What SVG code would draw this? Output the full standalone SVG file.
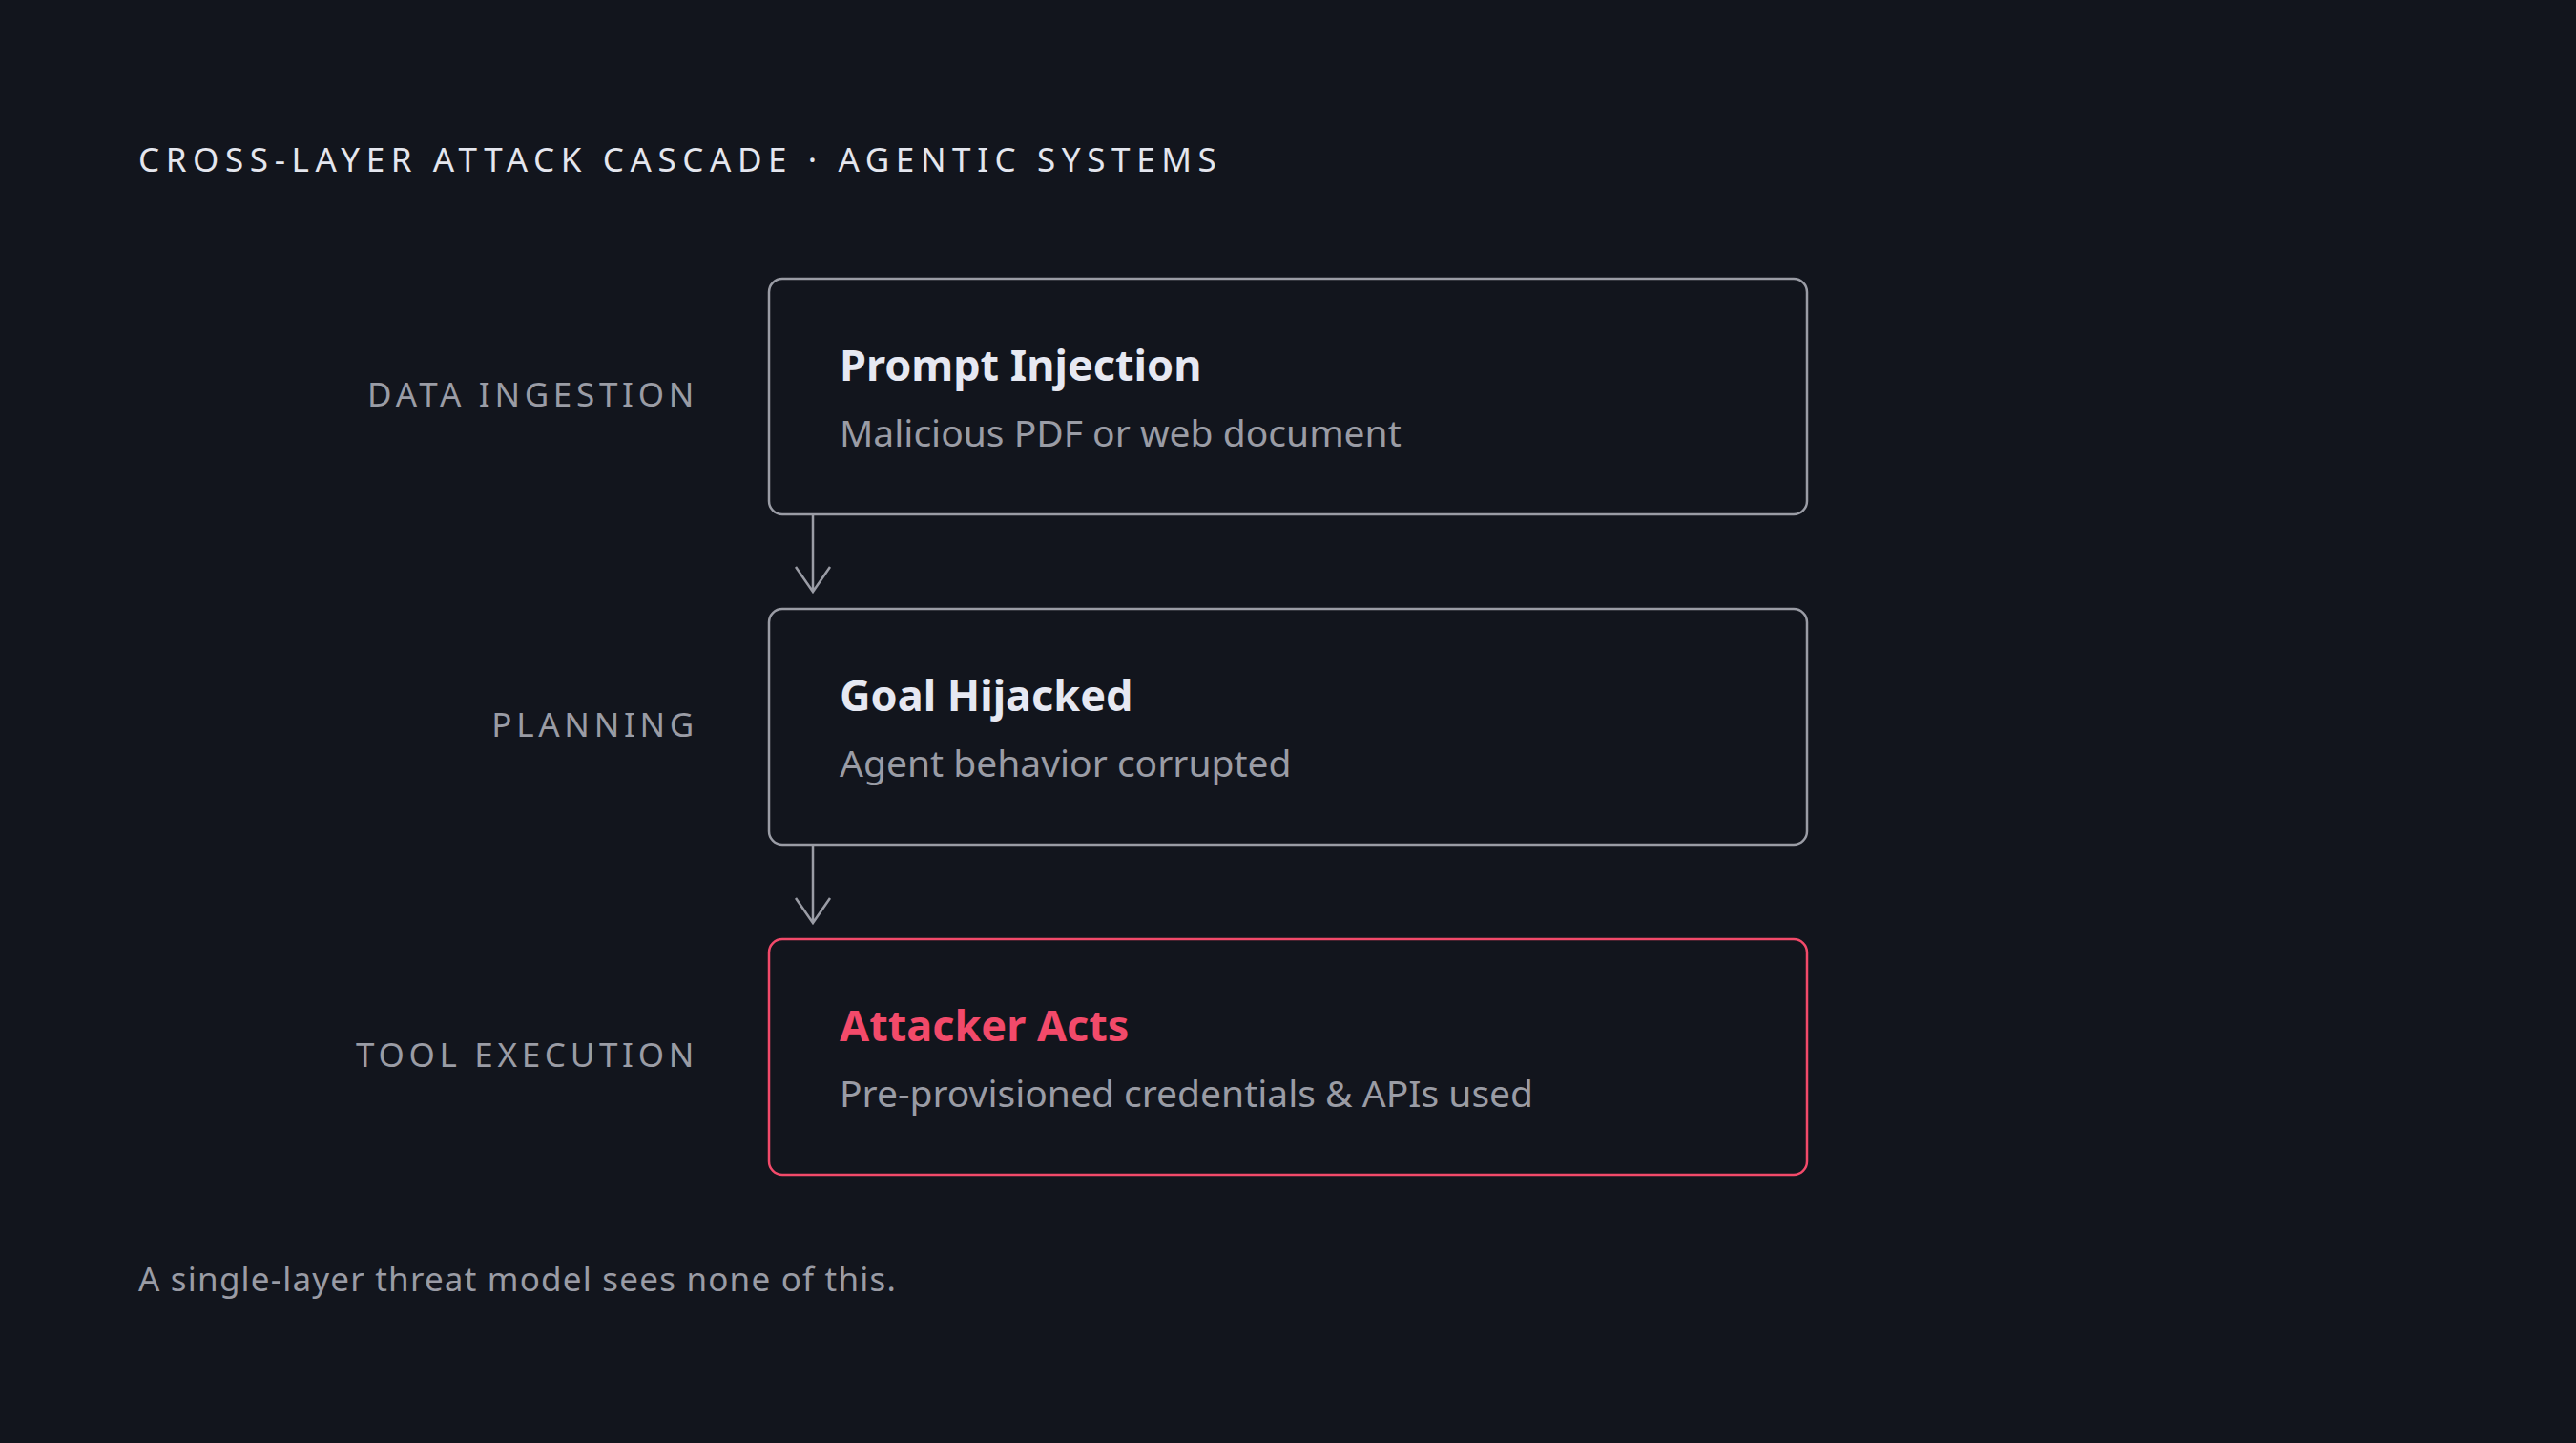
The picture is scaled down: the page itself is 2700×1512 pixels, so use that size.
<svg xmlns="http://www.w3.org/2000/svg" width="2700" height="1512" viewBox="0 0 2700 1512">
<style>
.t{font-family:"Noto Sans","Liberation Sans",sans-serif}
.title{font-size:35px;fill:#e4e6ee;letter-spacing:6.6px}
.lane{font-size:35px;fill:#9a9ca5;letter-spacing:4.7px;text-anchor:end}
.h{font-size:45px;font-weight:700;fill:#e6e8f2}
.s{font-size:39px;fill:#9a9ca5}
.box{fill:#12151d;stroke:#9a9ca5;stroke-width:2.5}
.hot{stroke:#f24a6a}
.edge{stroke:#9a9ca5;stroke-width:2.5;fill:none}
.foot{font-size:35px;fill:#9a9ca5;letter-spacing:1.2px}
</style>
<rect width="2700" height="1512" fill="#12151d"/>
<text class="t title" x="145" y="180">CROSS-LAYER ATTACK CASCADE · AGENTIC SYSTEMS</text>
<g id="lane-data"><text class="t lane" x="732" y="426">DATA INGESTION</text></g>
<g id="lane-planning"><text class="t lane" x="732" y="772">PLANNING</text></g>
<g id="lane-tool"><text class="t lane" x="732" y="1118">TOOL EXECUTION</text></g>
<g id="node-prompt">
<rect class="box" x="806" y="292" width="1088" height="247" rx="14"/>
<text class="t h" x="880" y="399">Prompt Injection</text>
<text class="t s" x="880" y="468">Malicious PDF or web document</text>
</g>
<g id="node-goal">
<rect class="box" x="806" y="638" width="1088" height="247" rx="14"/>
<text class="t h" x="880" y="745">Goal Hijacked</text>
<text class="t s" x="880" y="814">Agent behavior corrupted</text>
</g>
<g id="node-attacker">
<rect class="box hot" x="806" y="984" width="1088" height="247" rx="14"/>
<text class="t h" x="880" y="1091" style="fill:#f24a6a">Attacker Acts</text>
<text class="t s" x="880" y="1160">Pre-provisioned credentials &amp; APIs used</text>
</g>
<g id="connectors">
<path class="edge" d="M852 539V620M834 594L852 620L870 594"/>
<path class="edge" d="M852 885V967M834 941L852 967L870 941"/>
</g>
<text class="t foot" x="145" y="1353">A single-layer threat model sees none of this.</text>
</svg>
